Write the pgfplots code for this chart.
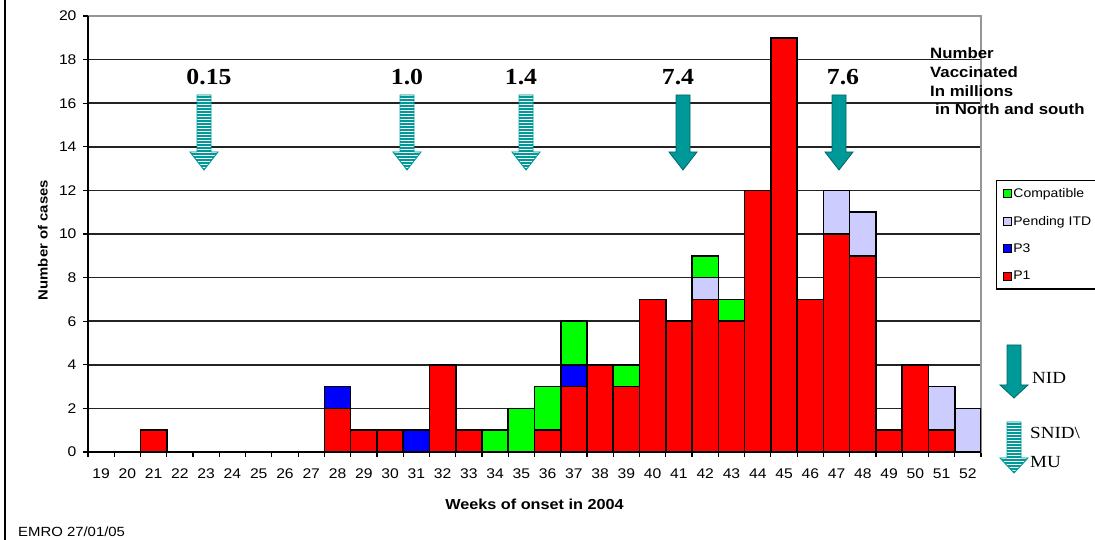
\documentclass[border=0pt]{standalone}
\usepackage{pgfplots}
\pgfplotsset{compat=1.18}
\usepackage{pgfplotstable}
\usepackage{fontspec}
\setmainfont{Liberation Sans}[FakeStretch=1.12]
\newfontfamily\tnr{Liberation Serif}[FakeStretch=1.12]
\definecolor{tealA}{RGB}{0,153,153}
\definecolor{tealD}{RGB}{0,100,100}
\definecolor{pend}{RGB}{204,204,255}
\definecolor{gridc}{RGB}{35,35,35}
\definecolor{framec}{RGB}{150,150,150}

\pgfplotstableread{
week P1 P3 Pend Comp
19 0 0 0 0
20 0 0 0 0
21 1 0 0 0
22 0 0 0 0
23 0 0 0 0
24 0 0 0 0
25 0 0 0 0
26 0 0 0 0
27 0 0 0 0
28 2 1 0 0
29 1 0 0 0
30 1 0 0 0
31 0 1 0 0
32 4 0 0 0
33 1 0 0 0
34 0 0 0 1
35 0 0 0 2
36 1 0 0 2
37 3 1 0 2
38 4 0 0 0
39 3 0 0 1
40 7 0 0 0
41 6 0 0 0
42 7 0 1 1
43 6 0 0 1
44 12 0 0 0
45 19 0 0 0
46 7 0 0 0
47 10 0 2 0
48 9 0 2 0
49 1 0 0 0
50 4 0 0 0
51 1 0 2 0
52 0 0 2 0
}\casedata

% cx, top, headbase, tip
\newcommand{\solidarrow}[4]{%
  \filldraw[fill=tealA, draw=tealD, line width=0.8pt]
    (#1-7,#2) -- (#1+7,#2) -- (#1+7,#3) -- (#1+14,#3) -- (#1,#4) -- (#1-14,#3) -- (#1-7,#3) -- cycle;}
\newcommand{\stripedarrow}[4]{%
  \begin{scope}
    \clip (#1-7,#2) -- (#1+7,#2) -- (#1+7,#3) -- (#1+14,#3) -- (#1,#4) -- (#1-14,#3) -- (#1-7,#3) -- cycle;
    \fill[white] (#1-15,#4) rectangle (#1+15,#2);
    \foreach \k in {0,3,...,90} {\fill[tealA] (#1-15,#4+\k) rectangle (#1+15,#4+\k+1.5);}
  \end{scope}
  \draw[tealA, line width=0.9pt]
    (#1-7,#2) -- (#1+7,#2) -- (#1+7,#3) -- (#1+14,#3) -- (#1,#4) -- (#1-14,#3) -- (#1-7,#3) -- cycle;}

\begin{document}
\begin{tikzpicture}
\begin{axis}[
  name=ax, at={(0pt,0pt)}, anchor=south west,
  width=893pt, height=436pt, scale only axis,
  ybar stacked, bar width=1,
  xmin=18.5, xmax=52.5, ymin=0, ymax=20,
  xtick={18.5,19.5,...,52.5}, x tick label as interval,
  xticklabels={19,20,21,22,23,24,25,26,27,28,29,30,31,32,33,34,35,36,37,38,39,40,41,42,43,44,45,46,47,48,49,50,51,52},
  ytick={0,2,...,18}, extra y ticks={20}, extra y tick style={grid=none},
  ymajorgrids, grid style={gridc, line width=1.5pt},
  axis line style={framec, line width=1.2pt},
  tick style={black, line width=1.2pt}, major tick length=5pt, tick align=outside, tick pos=left,
  ticklabel style={font=\fontsize{14}{16}\selectfont},
  xticklabel style={yshift=-8pt},
  yticklabel style={xshift=-3pt},
  /pgf/number format/assume math mode=true,
  xlabel={Weeks of onset in 2004}, ylabel={Number of cases},
  xlabel style={font=\bfseries\fontsize{14.5}{16}\selectfont, at={(axis description cs:0.5,-0.119)}, anchor=center},
  ylabel style={font=\bfseries\fontsize{13.3}{15}\selectfont, at={(axis description cs:-0.0504,0.486)}, anchor=center},
  legend style={at={(axis description cs:1.0168,0.6239)}, anchor=north west, draw=black, line width=1.2pt,
    font=\fontsize{12.5}{14}\selectfont, row sep=13pt, inner ysep=6pt, inner xsep=6pt},
  legend cell align=left, reverse legend,
  legend image code/.code={\draw[#1, draw=black, line width=0.8pt] (0pt,-4pt) rectangle (8pt,4pt);},
  every axis plot/.append style={draw=black, line width=1.6pt},
]
\addplot[fill=red] table[x=week,y=P1] {\casedata};
\addlegendentry{P1}
\addplot[fill=blue] table[x=week,y=P3] {\casedata};
\addlegendentry{P3}
\addplot[fill=pend] table[x=week,y=Pend] {\casedata};
\addlegendentry{Pending ITD}
\addplot[fill=green] table[x=week,y=Comp] {\casedata};
\addlegendentry{Compatible}
\end{axis}
\begin{scope}[shift={(ax.south west)}, xshift=-88pt, yshift=-88pt, x=1pt, y=1pt]
% black left and bottom axis lines
\draw[black, line width=1.4pt] (88,524) -- (88,88) -- (981,88);
% left border line
\draw[black, line width=2.2pt] (5,0) -- (5,540);
% vaccination arrows
\stripedarrow{204}{445}{388}{370}
\stripedarrow{407}{445}{388}{370}
\stripedarrow{526}{445}{388}{370}
\solidarrow{683}{445}{388}{370}
\solidarrow{839}{445}{388}{370}
\begin{scope}[every node/.style={font=\tnr\bfseries\fontsize{23}{26}\selectfont, inner sep=0pt}]
\node at (209,463) {0.15};
\node at (407,463) {1.0};
\node at (521,463) {1.4};
\node at (678,463) {7.4};
\node at (843,463) {7.6};
\end{scope}
\begin{scope}[every node/.style={anchor=base west, inner sep=0pt, font=\bfseries\fontsize{15}{18}\selectfont}]
\node at (930,481) {Number};
\node at (930,462) {Vaccinated};
\node at (930,443) {In millions};
\node at (935,425) {in North and south};
\end{scope}
% key arrows
\solidarrow{1014}{195}{155}{142}
\stripedarrow{1014}{118}{82}{67}
\begin{scope}[every node/.style={anchor=west, inner sep=0pt, font=\tnr\fontsize{17}{19}\selectfont}]
\node at (1032,162) {NID};
\node at (1030,107) {SNID\textbackslash};
\node at (1030,78) {MU};
\end{scope}
\node[anchor=base west, inner sep=0pt, font=\fontsize{13.3}{15}\selectfont] at (18,3.5) {EMRO 27/01/05};
\pgfresetboundingbox
\useasboundingbox (0,0) rectangle (1095,540);
\end{scope}
\end{tikzpicture}
\end{document}
